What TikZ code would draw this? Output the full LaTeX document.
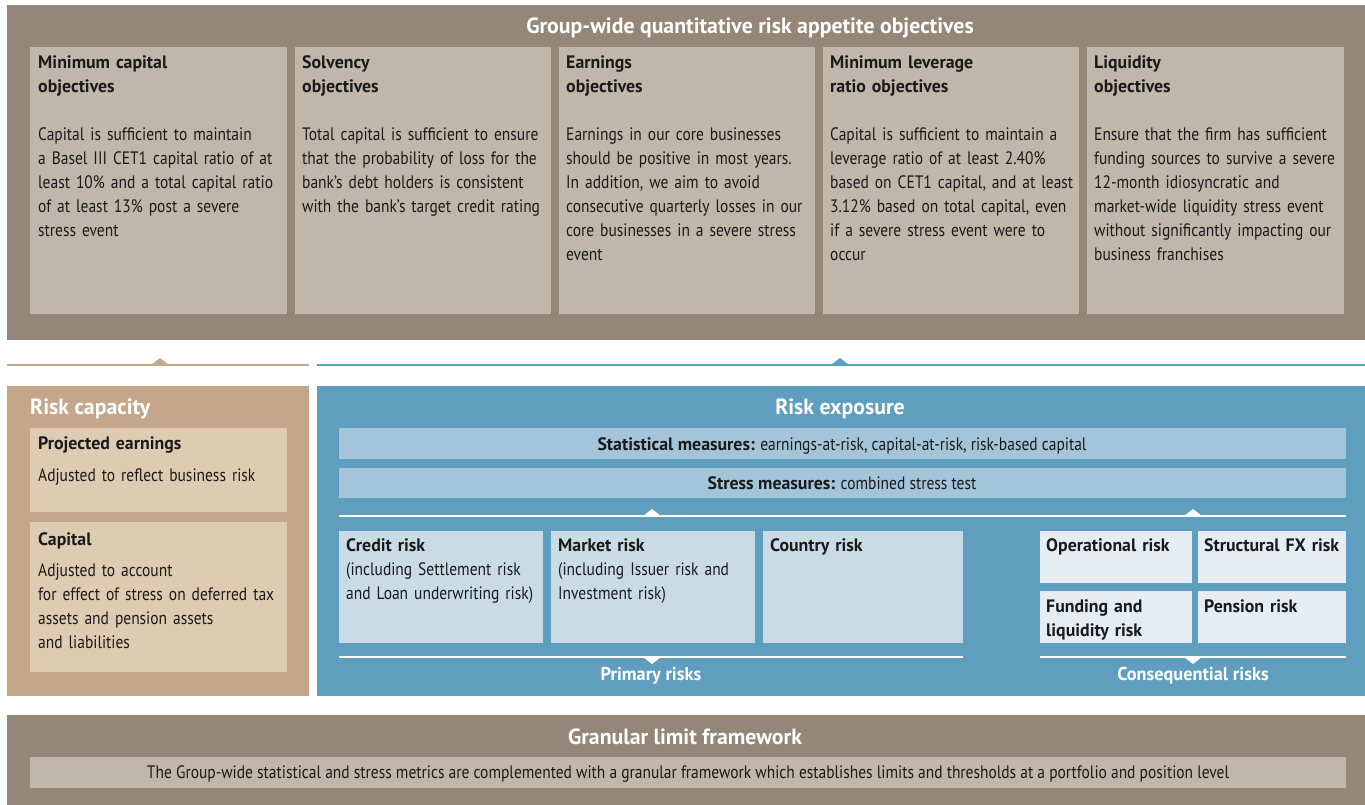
\documentclass[tikz,border=0pt]{standalone}
\usepackage{fontspec}
\setmainfont[UprightFeatures={FakeStretch=0.86},BoldFeatures={FakeStretch=0.99}]{PT Sans}
\usetikzlibrary{positioning}

\definecolor{frame}{RGB}{149,135,120}
\definecolor{stone}{RGB}{193,182,170}
\definecolor{tan}{RGB}{196,166,139}
\definecolor{sand}{RGB}{223,203,177}
\definecolor{steel}{RGB}{95,158,190}
\definecolor{mist}{RGB}{163,196,217}
\definecolor{pale}{RGB}{201,220,230}
\definecolor{ice}{RGB}{229,237,242}
\definecolor{ink}{RGB}{26,26,26}

\begin{document}
\begin{tikzpicture}[x=1pt,y=-1pt]
    \tikzstyle{box}=[draw=none,inner sep=0,outer sep=0,anchor=north west]
    \tikzstyle{title}=[inner sep=0,anchor=base,text=white,font=\fontsize{22}{24}\selectfont\bfseries]
    \tikzstyle{txt}=[inner sep=0,anchor=base west,align=left,text width=255pt,text=ink,font=\fontsize{18}{24}\selectfont]
    \tikzstyle{bar}=[inner sep=0,anchor=base,text=ink,font=\fontsize{18}{24}\selectfont]
    \tikzstyle{divider}=[line width=2.5pt]
    \useasboundingbox (0,0) rectangle (1365,805);

    % risk appetite objectives
    \node[box,fill=frame,minimum width=1358,minimum height=335] (appetite) at (7,5) {};
    \node[title] (appetitetitle) at (750,34) {Group-wide quantitative risk appetite objectives};
    \node[box,fill=stone,minimum width=257,minimum height=267] (mincap) at (30,47) {};
    \node[box,fill=stone,minimum width=256,minimum height=267] (solvency) at (295,47) {};
    \node[box,fill=stone,minimum width=256,minimum height=267] (earnings) at (559,47) {};
    \node[box,fill=stone,minimum width=256,minimum height=267] (leverage) at (823,47) {};
    \node[box,fill=stone,minimum width=257,minimum height=267] (liquidity) at (1087,47) {};
    \node[txt] (mincaptext) at (38,69) {\textbf{Minimum capital}\\\textbf{objectives}\\[24pt]Capital is sufficient to maintain\\a Basel III CET1 capital ratio of at\\least 10\% and a total capital ratio\\of at least 13\% post a severe\\stress event};
    \node[txt] (solvencytext) at (302,69) {\textbf{Solvency}\\\textbf{objectives}\\[24pt]Total capital is sufficient to ensure\\that the probability of loss for the\\bank's debt holders is consistent\\with the bank's target credit rating};
    \node[txt] (earningstext) at (566,69) {\textbf{Earnings}\\\textbf{objectives}\\[24pt]Earnings in our core businesses\\should be positive in most years.\\In addition, we aim to avoid\\consecutive quarterly losses in our\\core businesses in a severe stress\\event};
    \node[txt] (leveragetext) at (830,69) {\textbf{Minimum leverage}\\\textbf{ratio objectives}\\[24pt]Capital is sufficient to maintain a\\leverage ratio of at least 2.40\%\\based on CET1 capital, and at least\\3.12\% based on total capital, even\\if a severe stress event were to\\occur};
    \node[txt] (liquiditytext) at (1094,69) {\textbf{Liquidity}\\\textbf{objectives}\\[24pt]Ensure that the firm has sufficient\\funding sources to survive a severe\\12-month idiosyncratic and\\market-wide liquidity stress event\\without significantly impacting our\\business franchises};

    % dividers under the objectives
    \coordinate (capl) at (7,365);
    \coordinate (capr) at (309,365);
    \coordinate (expl) at (317,365);
    \coordinate (expr) at (1365,365);
    \draw[divider,tan] (capl) -- (capr);
    \draw[divider,steel] (expl) -- (expr);
    \fill[tan] (151,365) -- ++(9,-7) -- ++(9,7) -- cycle;
    \fill[steel] (831,365) -- ++(9,-7) -- ++(9,7) -- cycle;

    % risk capacity
    \node[box,fill=tan,minimum width=302,minimum height=310] (capacity) at (7,386) {};
    \node[title,anchor=base west] (capacitytitle) at (30,414) {Risk capacity};
    \node[box,fill=sand,minimum width=257,minimum height=84] (projected) at (30,428) {};
    \node[box,fill=sand,minimum width=257,minimum height=150] (capital) at (30,522) {};
    \node[txt] (projectedtext) at (38,449) {\textbf{Projected earnings}\\[8pt]Adjusted to reflect business risk};
    \node[txt] (capitaltext) at (38,545) {\textbf{Capital}\\[7pt]Adjusted to account\\for effect of stress on deferred tax\\assets and pension assets\\and liabilities};

    % risk exposure
    \node[box,fill=steel,minimum width=1048,minimum height=310] (exposure) at (317,386) {};
    \node[title] (exposuretitle) at (840,414) {Risk exposure};
    \node[box,fill=mist,minimum width=1007,minimum height=31] (statistical) at (339,428) {};
    \node[box,fill=mist,minimum width=1007,minimum height=30] (stress) at (339,468) {};
    \node[bar] (statisticaltext) at (842,450) {\textbf{Statistical measures:} earnings-at-risk, capital-at-risk, risk-based capital};
    \node[bar] (stresstext) at (842,489) {\textbf{Stress measures:} combined stress test};

    \coordinate (measl) at (339,516);
    \coordinate (measr) at (1346,516);
    \draw[divider,white] (measl) -- (measr);
    \fill[white] (643,516) -- ++(9,-7) -- ++(9,7) -- cycle;
    \fill[white] (1184,516) -- ++(9,-7) -- ++(9,7) -- cycle;

    \node[box,fill=pale,minimum width=204,minimum height=112] (credit) at (339,531) {};
    \node[box,fill=pale,minimum width=204,minimum height=112] (market) at (551,531) {};
    \node[box,fill=pale,minimum width=200,minimum height=112] (country) at (763,531) {};
    \node[txt] (credittext) at (346,551) {\textbf{Credit risk}\\(including Settlement risk\\and Loan underwriting risk)};
    \node[txt] (markettext) at (558,551) {\textbf{Market risk}\\(including Issuer risk and\\Investment risk)};
    \node[txt] (countrytext) at (770,551) {\textbf{Country risk}};

    \node[box,fill=ice,minimum width=152,minimum height=52] (operational) at (1040,531) {};
    \node[box,fill=ice,minimum width=148,minimum height=52] (structural) at (1198,531) {};
    \node[box,fill=ice,minimum width=152,minimum height=52] (funding) at (1040,591) {};
    \node[box,fill=ice,minimum width=148,minimum height=52] (pension) at (1198,591) {};
    \node[txt] (operationaltext) at (1046,551) {\textbf{Operational risk}};
    \node[txt] (structuraltext) at (1204,551) {\textbf{Structural FX risk}};
    \node[txt] (fundingtext) at (1046,612) {\textbf{Funding and}\\\textbf{liquidity risk}};
    \node[txt] (pensiontext) at (1204,612) {\textbf{Pension risk}};

    \coordinate (priml) at (339,657);
    \coordinate (primr) at (963,657);
    \coordinate (consl) at (1040,657);
    \coordinate (consr) at (1346,657);
    \draw[divider,white] (priml) -- (primr);
    \draw[divider,white] (consl) -- (consr);
    \fill[white] (643,657) -- ++(9,7) -- ++(9,-7) -- cycle;
    \fill[white] (1184,657) -- ++(9,7) -- ++(9,-7) -- cycle;
    \node[title,font=\fontsize{18.5}{24}\selectfont\bfseries] (primary) at (651,680) {Primary risks};
    \node[title,font=\fontsize{18.5}{24}\selectfont\bfseries] (consequential) at (1193,680) {Consequential risks};

    % granular limits
    \node[box,fill=frame,minimum width=1358,minimum height=90] (granular) at (7,715) {};
    \node[title] (granulartitle) at (685,744) {Granular limit framework};
    \node[box,fill=stone,minimum width=1316,minimum height=31] (limits) at (30,757) {};
    \node[bar] (limitstext) at (688,778) {The Group-wide statistical and stress metrics are complemented with a granular framework which establishes limits and thresholds at a portfolio and position level};
\end{tikzpicture}
\end{document}
